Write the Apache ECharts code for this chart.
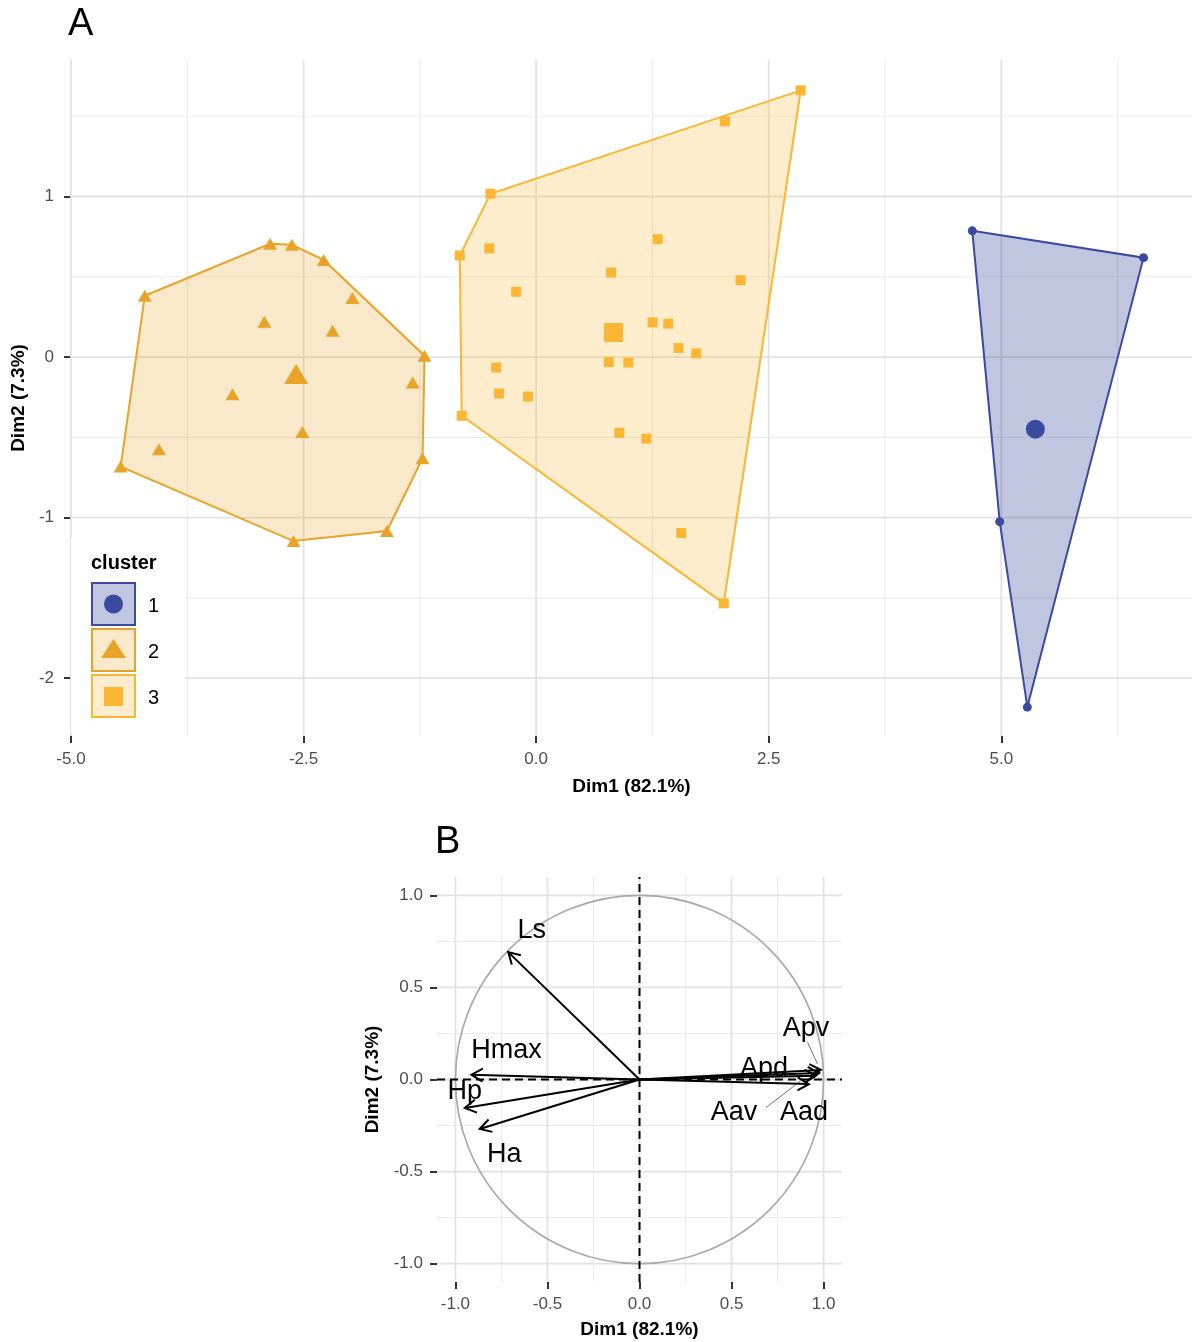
<!DOCTYPE html>
<html><head><meta charset="utf-8">
<script src="https://cdn.jsdelivr.net/npm/echarts@6/dist/echarts.min.js"></script>
<style>html,body{margin:0;padding:0;background:#fff}#chart{width:1192px;height:1342px}</style>
</head><body><div id="chart"></div>
<script>
// ---------------- Panel A data ----------------
const clusterNames = ['1', '2', '3'];
const cluster1Points = [[4.688, 0.786], [6.529, 0.619], [5.280, -2.180], [4.983, -1.025]];
const cluster2Points = [
  [-4.207, 0.382], [-2.860, 0.705], [-2.625, 0.699], [-2.283, 0.605], [-1.200, 0.008],
  [-2.922, 0.220], [-1.975, 0.368], [-2.188, 0.164], [-1.327, -0.158], [-3.264, -0.231],
  [-4.466, -0.682], [-4.055, -0.574], [-2.513, -0.466], [-1.221, -0.630], [-1.604, -1.083],
  [-2.608, -1.146]
];
const cluster3Points = [
  [-0.821, 0.632], [-0.491, 1.017], [2.844, 1.661], [2.017, -1.534], [-0.800, -0.366],
  [2.029, 1.468], [-0.504, 0.677], [1.307, 0.734], [0.806, 0.526], [2.197, 0.478],
  [-0.215, 0.407], [1.252, 0.216], [1.420, 0.208], [-0.429, -0.065], [-0.400, -0.227],
  [-0.087, -0.246], [1.530, 0.056], [1.722, 0.022], [0.781, -0.031], [0.991, -0.034],
  [0.895, -0.472], [1.185, -0.508], [1.559, -1.096]
];
const cluster1Hull = [[4.688, 0.786], [6.529, 0.619], [5.280, -2.180], [4.983, -1.025]];
const cluster2Hull = [[-4.207, 0.382], [-2.860, 0.705], [-2.625, 0.699], [-2.283, 0.605], [-1.200, 0.008],
  [-1.221, -0.630], [-1.604, -1.083], [-2.608, -1.146], [-4.466, -0.682]];
const cluster3Hull = [[-0.821, 0.632], [-0.491, 1.017], [2.844, 1.661], [2.017, -1.534], [-0.800, -0.366]];
const clusterCenters = [[5.366, -0.449], [-2.580, -0.106], [0.832, 0.153]];

const aXTicks = [-5, -2.5, 0, 2.5, 5];
const aXMinor = [-3.75, -1.25, 1.25, 3.75, 6.25];
const aYTicks = [-2, -1, 0, 1];
const aYMinor = [-1.5, -0.5, 0.5, 1.5];

// ---------------- Panel B data ----------------
const varNames = ['Ls', 'Hmax', 'Hp', 'Ha', 'Apv', 'Apd', 'Aad', 'Aav'];
const varCoords = [[-0.713, 0.692], [-0.913, 0.026], [-0.949, -0.155], [-0.868, -0.269],
  [0.985, 0.052], [0.976, 0.035], [0.958, 0.020], [0.920, -0.025]];
const varLabelPos = [[-0.585, 0.81], [-0.722, 0.157], [-0.949, -0.065], [-0.735, -0.405],
  [0.904, 0.275], [0.676, 0.057], [0.894, -0.179], [0.513, -0.179]];
const leaderLines = [[[0.913, 0.202], [0.967, 0.084]], [[0.688, -0.152], [0.876, -0.007]]];
const bTicks = [-1, -0.5, 0, 0.5, 1];
const bMinor = [-0.75, -0.25, 0.25, 0.75];

// ---------------- styling ----------------
const FONT = "'Liberation Sans', Arial, sans-serif";
const COL1 = '#3A4A9E', COL2 = '#E7A429', COL3 = '#FBB633';
const FILL1 = 'rgba(59,75,160,0.32)', FILL2 = 'rgba(231,164,41,0.25)', FILL3 = 'rgba(251,182,51,0.25)';
const A_X = [-5, 7.05], A_Y = [-2.36, 1.85], B_R = [-1.1, 1.1];

function gridData(majX, minX, majY, minY) {
  const d = [];
  minX.forEach(v => d.push([v, 0, 0])); minY.forEach(v => d.push([v, 1, 0]));
  majX.forEach(v => d.push([v, 0, 1])); majY.forEach(v => d.push([v, 1, 1]));
  return d;
}
function gridRender(xr, yr) {
  return function (params, api) {
    const v = api.value(0), dir = api.value(1), maj = api.value(2);
    const p1 = dir === 0 ? api.coord([v, yr[0]]) : api.coord([xr[0], v]);
    const p2 = dir === 0 ? api.coord([v, yr[1]]) : api.coord([xr[1], v]);
    return { type: 'line', shape: { x1: p1[0], y1: p1[1], x2: p2[0], y2: p2[1] },
      style: { stroke: maj ? '#E2E2E2' : '#EBEBEB', lineWidth: maj ? 1.8 : 1.1 } };
  };
}
function hullRender(hull, stroke, fill) {
  return function (params, api) {
    if (params.dataIndex !== 0) return null;
    const pts = hull.map(p => api.coord(p));
    return { type: 'polygon', shape: { points: pts }, style: { fill: fill, stroke: stroke, lineWidth: 2 } };
  };
}
function axisCommon(ticks, fmt, margin) {
  return {
    splitLine: { show: false }, axisLine: { show: false, onZero: false },
    axisTick: { show: true, customValues: ticks, length: 7, lineStyle: { color: '#333', width: 2 } },
    axisLabel: { customValues: ticks, formatter: fmt, color: '#4D4D4D', fontSize: 17, margin: margin, fontFamily: FONT }
  };
}
const nameStyle = { color: '#000', fontSize: 19, fontWeight: 'bold', fontFamily: FONT };

const option = {
  backgroundColor: '#fff',
  animation: false,
  grid: [
    { left: 71, top: 60, width: 1121, height: 676 },
    { left: 437, top: 877, width: 405, height: 405 }
  ],
  xAxis: [
    Object.assign({ gridIndex: 0, type: 'value', min: A_X[0], max: A_X[1],
      name: 'Dim1 (82.1%)', nameLocation: 'middle', nameGap: 41, nameTextStyle: nameStyle },
      axisCommon(aXTicks, v => v.toFixed(1), 15)),
    Object.assign({ gridIndex: 1, type: 'value', min: B_R[0], max: B_R[1],
      name: 'Dim1 (82.1%)', nameLocation: 'middle', nameGap: 38, nameTextStyle: nameStyle },
      axisCommon(bTicks, v => v.toFixed(1), 14))
  ],
  yAxis: [
    Object.assign({ gridIndex: 0, type: 'value', min: A_Y[0], max: A_Y[1],
      name: 'Dim2 (7.3%)', nameLocation: 'middle', nameGap: 40, nameRotate: 90, nameTextStyle: nameStyle },
      axisCommon(aYTicks, v => String(v), 17)),
    Object.assign({ gridIndex: 1, type: 'value', min: B_R[0], max: B_R[1],
      name: 'Dim2 (7.3%)', nameLocation: 'middle', nameGap: 55, nameRotate: 90, nameTextStyle: nameStyle },
      axisCommon(bTicks, v => v.toFixed(1), 14))
  ],
  graphic: [
    { type: 'text', x: 68, y: 25, z: 100, style: { text: 'A', fill: '#000', fontSize: 38, fontFamily: FONT, verticalAlign: 'middle' } },
    { type: 'text', x: 435, y: 843, z: 100, style: { text: 'B', fill: '#000', fontSize: 38, fontFamily: FONT, verticalAlign: 'middle' } },
    // legend
    { type: 'rect', z: 100, shape: { x: 71, y: 537, width: 114, height: 196 }, style: { fill: '#fff' } },
    { type: 'text', z: 101, x: 91, y: 563, style: { text: 'cluster', fill: '#000', fontSize: 20, fontWeight: 'bold', fontFamily: FONT, verticalAlign: 'middle' } },
    { type: 'rect', z: 101, shape: { x: 92, y: 583, width: 43, height: 42 }, style: { fill: FILL1, stroke: COL1, lineWidth: 2 } },
    { type: 'circle', z: 102, shape: { cx: 113.5, cy: 604, r: 9.5 }, style: { fill: COL1 } },
    { type: 'text', z: 101, x: 148, y: 606, style: { text: clusterNames[0], fill: '#000', fontSize: 20, fontFamily: FONT, verticalAlign: 'middle' } },
    { type: 'rect', z: 101, shape: { x: 92, y: 629, width: 43, height: 42 }, style: { fill: FILL2, stroke: COL2, lineWidth: 2 } },
    { type: 'polygon', z: 102, shape: { points: [[113.5, 639], [126, 658], [101, 658]] }, style: { fill: COL2 } },
    { type: 'text', z: 101, x: 148, y: 652, style: { text: clusterNames[1], fill: '#000', fontSize: 20, fontFamily: FONT, verticalAlign: 'middle' } },
    { type: 'rect', z: 101, shape: { x: 92, y: 675, width: 43, height: 42 }, style: { fill: FILL3, stroke: COL3, lineWidth: 2 } },
    { type: 'rect', z: 102, shape: { x: 104, y: 687, width: 19, height: 19 }, style: { fill: COL3 } },
    { type: 'text', z: 101, x: 148, y: 698, style: { text: clusterNames[2], fill: '#000', fontSize: 20, fontFamily: FONT, verticalAlign: 'middle' } }
  ],
  series: [
    // Panel A grid
    { type: 'custom', xAxisIndex: 0, yAxisIndex: 0, z: 1, silent: true,
      data: gridData(aXTicks, aXMinor, aYTicks, aYMinor), renderItem: gridRender(A_X, A_Y) },
    // hulls
    { type: 'custom', name: 'hull 1', xAxisIndex: 0, yAxisIndex: 0, z: 2, silent: true, data: cluster1Hull, renderItem: hullRender(cluster1Hull, COL1, FILL1) },
    { type: 'custom', name: 'hull 2', xAxisIndex: 0, yAxisIndex: 0, z: 2, silent: true, data: cluster2Hull, renderItem: hullRender(cluster2Hull, COL2, FILL2) },
    { type: 'custom', name: 'hull 3', xAxisIndex: 0, yAxisIndex: 0, z: 2, silent: true, data: cluster3Hull, renderItem: hullRender(cluster3Hull, COL3, FILL3) },
    // points
    { type: 'scatter', name: 'cluster 1', xAxisIndex: 0, yAxisIndex: 0, z: 3, symbol: 'circle', symbolSize: 9, itemStyle: { color: COL1, opacity: 1 }, data: cluster1Points },
    { type: 'scatter', name: 'cluster 2', xAxisIndex: 0, yAxisIndex: 0, z: 3, symbol: 'triangle', symbolSize: [14, 12], itemStyle: { color: COL2, opacity: 1 }, data: cluster2Points },
    { type: 'scatter', name: 'cluster 3', xAxisIndex: 0, yAxisIndex: 0, z: 3, symbol: 'rect', symbolSize: 10, itemStyle: { color: COL3, opacity: 1 }, data: cluster3Points },
    // centers
    { type: 'scatter', name: 'center 1', xAxisIndex: 0, yAxisIndex: 0, z: 4, symbol: 'circle', symbolSize: 19, itemStyle: { color: COL1, opacity: 1 }, data: [clusterCenters[0]] },
    { type: 'scatter', name: 'center 2', xAxisIndex: 0, yAxisIndex: 0, z: 4, symbol: 'triangle', symbolSize: [24, 20], itemStyle: { color: COL2, opacity: 1 }, data: [clusterCenters[1]] },
    { type: 'scatter', name: 'center 3', xAxisIndex: 0, yAxisIndex: 0, z: 4, symbol: 'rect', symbolSize: 19, itemStyle: { color: COL3, opacity: 1 }, data: [clusterCenters[2]] },

    // Panel B grid
    { type: 'custom', xAxisIndex: 1, yAxisIndex: 1, z: 1, silent: true,
      data: gridData(bTicks, bMinor, bTicks, bMinor), renderItem: gridRender(B_R, B_R) },
    // unit circle
    { type: 'custom', xAxisIndex: 1, yAxisIndex: 1, z: 2, silent: true, data: [[0, 0]],
      renderItem: function (params, api) {
        const c = api.coord([api.value(0), api.value(1)]);
        const r = api.size([1, 1])[0];
        return { type: 'circle', shape: { cx: c[0], cy: c[1], r: r }, style: { fill: 'none', stroke: '#A9A9A9', lineWidth: 1.7 } };
      } },
    // dashed zero lines
    { type: 'custom', xAxisIndex: 1, yAxisIndex: 1, z: 3, silent: true, data: [[0, 0], [0, 1]],
      renderItem: function (params, api) {
        const v = api.value(0), dir = api.value(1);
        const p1 = dir === 0 ? api.coord([v, B_R[0]]) : api.coord([B_R[0], v]);
        const p2 = dir === 0 ? api.coord([v, B_R[1]]) : api.coord([B_R[1], v]);
        return { type: 'line', shape: { x1: p1[0], y1: p1[1], x2: p2[0], y2: p2[1] }, style: { stroke: '#000', lineWidth: 2, lineDash: [8, 5] } };
      } },
    // arrows
    { type: 'custom', name: 'variables', xAxisIndex: 1, yAxisIndex: 1, z: 4, silent: true, data: varCoords,
      renderItem: function (params, api) {
        const o = api.coord([0, 0]);
        const t = api.coord([api.value(0), api.value(1)]);
        const ang = Math.atan2(t[1] - o[1], t[0] - o[0]);
        const L = 13, a = Math.PI / 6;
        const p1 = [t[0] - L * Math.cos(ang - a), t[1] - L * Math.sin(ang - a)];
        const p2 = [t[0] - L * Math.cos(ang + a), t[1] - L * Math.sin(ang + a)];
        return { type: 'group', children: [
          { type: 'line', shape: { x1: o[0], y1: o[1], x2: t[0], y2: t[1] }, style: { stroke: '#000', lineWidth: 2 } },
          { type: 'polyline', shape: { points: [p1, t, p2] }, style: { stroke: '#000', lineWidth: 2, fill: null } }
        ] };
      } },
    // leader lines
    { type: 'custom', xAxisIndex: 1, yAxisIndex: 1, z: 5, silent: true, data: leaderLines.map(s => [s[0][0], s[0][1], s[1][0], s[1][1]]),
      renderItem: function (params, api) {
        const a = api.coord([api.value(0), api.value(1)]);
        const b = api.coord([api.value(2), api.value(3)]);
        return { type: 'line', shape: { x1: a[0], y1: a[1], x2: b[0], y2: b[1] }, style: { stroke: '#333', lineWidth: 0.7 } };
      } },
    // labels
    { type: 'custom', name: 'labels', xAxisIndex: 1, yAxisIndex: 1, z: 6, silent: true, data: varLabelPos,
      renderItem: function (params, api) {
        const p = api.coord([api.value(0), api.value(1)]);
        return { type: 'text', x: p[0], y: p[1], style: { text: varNames[params.dataIndex], fill: '#000', fontSize: 27, fontFamily: FONT, align: 'center', verticalAlign: 'middle' } };
      } }
  ]
};
const chart = echarts.init(document.getElementById('chart'), null, { renderer: 'canvas' });
chart.setOption(option);
</script></body></html>
